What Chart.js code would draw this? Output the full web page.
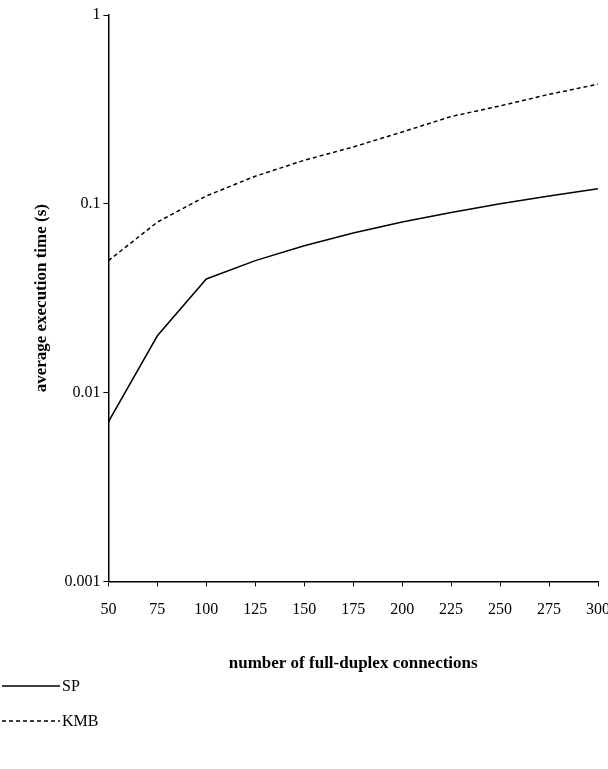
<!DOCTYPE html>
<html><head><meta charset="utf-8">
<script src="https://cdn.jsdelivr.net/npm/chart.js@4"></script>
<style>
body{margin:0;background:#fff;font-family:"Liberation Serif",serif;}
#wrap{position:relative;width:608px;height:678px;}
.leg{position:absolute;left:0;font-size:16px;display:flex;align-items:center;}
.leg svg{margin-right:2px;}
</style></head><body>
<div id="wrap"><canvas id="c"></canvas></div>
<div class="leg" style="top:677px"><svg width="60" height="4"><line x1="2" y1="2" x2="60" y2="2" stroke="#000" stroke-width="1.5"/></svg>SP</div>
<div class="leg" style="top:712px"><svg width="60" height="4"><line x1="2" y1="2" x2="60" y2="2" stroke="#000" stroke-width="1.5" stroke-dasharray="4,3"/></svg>KMB</div>
<script>
const connections = [50, 75, 100, 125, 150, 175, 200, 225, 250, 275, 300];
const spTimes = [0.007, 0.02, 0.04, 0.05, 0.06, 0.07, 0.08, 0.09, 0.1, 0.11, 0.12];
const kmbTimes = [0.05, 0.08, 0.11, 0.14, 0.17, 0.2, 0.24, 0.29, 0.33, 0.38, 0.43];
const yTicks = [0.001, 0.01, 0.1, 1];

const font = { family: "Liberation Serif", size: 16 };
new Chart(document.getElementById("c"), {
  type: "line",
  data: {
    datasets: [
      { label: "SP", data: connections.map((x, i) => ({ x, y: spTimes[i] })), borderColor: "#000", borderWidth: 1.5, pointRadius: 0, tension: 0 },
      { label: "KMB", data: connections.map((x, i) => ({ x, y: kmbTimes[i] })), borderColor: "#000", borderWidth: 1.5, borderDash: [4, 3], pointRadius: 0, tension: 0 }
    ]
  },
  options: {
    responsive: true, maintainAspectRatio: false, animation: false,
    layout: { padding: { top: 15, right: 10, left: 27 } },
    plugins: { legend: { display: false }, tooltip: { enabled: false } },
    scales: {
      x: {
        type: "linear", min: 50, max: 300,
        afterBuildTicks: s => { s.ticks = connections.map(v => ({ value: v })); },
        afterFit: s => { s.paddingRight = 0; },
        ticks: { color: "#000", font, maxRotation: 0, padding: 14 },
        grid: { drawOnChartArea: false, color: "#000", tickLength: 5 },
        border: { color: "#000", width: 1.5 },
        title: { display: true, text: "number of full-duplex connections", color: "#000", font: { family: "Liberation Serif", size: 17, weight: "bold" }, padding: { top: 20 } }
      },
      y: {
        type: "logarithmic", min: 0.001, max: 1,
        afterBuildTicks: s => { s.ticks = yTicks.map(v => ({ value: v })); },
        ticks: { color: "#000", font, callback: v => String(v) },
        grid: { drawOnChartArea: false, color: "#000", tickLength: 5 },
        border: { color: "#000", width: 1.5 },
        title: { display: true, text: "average execution time (s)", color: "#000", font: { family: "Liberation Serif", size: 17, weight: "bold" }, padding: { bottom: 10 } }
      }
    }
  }
});
</script>
</body></html>
